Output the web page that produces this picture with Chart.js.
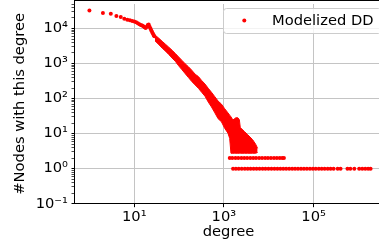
<!DOCTYPE html>
<html>
<head>
<meta charset="utf-8">
<script src="https://cdn.jsdelivr.net/npm/chart.js@4.4.0/dist/chart.umd.min.js"></script>
<style>
  html, body { margin: 0; padding: 0; background: #fff; overflow: hidden; }
  #wrap { width: 379px; height: 250px; overflow: hidden; }
</style>
</head>
<body>
<div id="wrap"><canvas id="ddChart" width="386" height="250"></canvas></div>
<script>
// head of the distribution, one point per small degree
const headDegrees = [1, 2, 3, 4, 5, 6, 7, 8, 9, 10, 11, 12, 13, 14, 15, 16, 17, 18, 19, 20, 21, 22, 23, 24, 25, 26, 27, 28];
const headCounts = [32400, 27900, 26200, 22600, 21200, 19000, 17800, 17200, 16400, 15800, 15100, 14200, 13300, 12600,
  12100, 11500, 10900, 10300, 11300, 12500, 12900, 11300, 9950, 8750, 7950, 7220, 6550, 5960];

// dense part of the curve, read as the top and bottom edge of the red band
const bandDegrees = [29, 35.5, 42, 49.8, 58.9, 69.6, 82.7, 97.8, 116, 137, 162, 192, 228, 270, 319, 378, 448, 529,
  628, 743, 879, 1040, 1230, 1345, 1436, 1590, 1715, 1850, 2050, 2210, 2320, 2870, 3400, 4380, 5100, 5650];
const bandUpper = [6550, 5230, 4310, 3550, 2930, 2410, 1930, 1540, 1230, 980, 807, 644, 498, 424, 328, 261, 196, 151,
  113, 84.7, 69.8, 51.6, 39.1, 33.7, 30.2, 24.4, 26.6, 28.3, 28.3, 24.9, 14.9, 11.5, 9.3, 6.7, 5.0, 3.8];
const bandLower = [4450, 3440, 2750, 2260, 1810, 1440, 1150, 861, 665, 514, 397, 307, 245, 196, 151, 117, 79.4, 57.5,
  39.1, 26.6, 21.9, 14.2, 10.3, 7.3, 2.75, 2.75, 2.75, 2.75, 2.75, 2.75, 2.75, 2.75, 2.75, 2.75, 2.75, 2.9];

// tail rows: degrees held by exactly two nodes / one node
const rowTwoDegrees = [1350, 1540, 1810, 2090, 2450, 2840, 3300, 3870, 4500, 5200, 6100, 7100, 8300, 9600, 11200,
  13100, 15200, 17600, 20000, 21800];
const rowOneDegrees = [1600, 1850, 2140, 2500, 2930, 3400, 3950, 4600, 5350, 6250, 7300, 8450, 9850, 11500, 13400,
  15600, 18100, 21100, 24500, 28600, 33300, 38700, 45000, 52500, 61000, 71000, 83000, 96500, 112000, 131000, 152000,
  177000, 207000, 240000, 280000, 345000, 400000, 570000, 660000, 810000, 1040000, 1220000, 1420000, 1650000, 1870000];

// axes
const yTickValues = [0.1, 1, 10, 100, 1000, 10000];
const yTickLabels = ['10\u207B\u00B9', '10\u2070', '10\u00B9', '10\u00B2', '10\u00B3', '10\u2074'];
const xTickValues = [10, 1000, 100000];
const xTickLabels = ['10\u00B9', '10\u00B3', '10\u2075'];
const yMin = 0.1, yMax = 50000;
const xMin = 0.477, xMax = 3.36e6;

const RED = '#ff0000';
const GRID = '#c4c4c4';

function labelFor(values, labels, value) {
  const i = values.findIndex(v => Math.abs(v - value) / v < 1e-6);
  return i >= 0 ? labels[i] : '';
}

function isMajorY(value) {
  return yTickValues.some(v => Math.abs(v - value) / v < 1e-6);
}

// frame + legend drawn inside the axes like matplotlib
const frameAndLegend = {
  id: 'frameAndLegend',
  afterDraw(chart) {
    const { ctx, chartArea } = chart;
    ctx.save();
    ctx.strokeStyle = '#000';
    ctx.lineWidth = 1;
    const l = Math.floor(chartArea.left) - 0.5;
    const b = Math.round(chartArea.bottom) - 0.5;
    ctx.strokeRect(l, 0.5, chartArea.right - l - 1, b - 0.5);

    // legend box
    ctx.beginPath();
    if (ctx.roundRect) ctx.roundRect(223.5, 8.5, 158, 25, 3);
    else ctx.rect(223.5, 8.5, 158, 25);
    ctx.fillStyle = 'rgba(255,255,255,0.8)';
    ctx.fill();
    ctx.strokeStyle = '#cccccc';
    ctx.stroke();

    ctx.beginPath();
    ctx.arc(244.3, 20.5, 2, 0, Math.PI * 2);
    ctx.fillStyle = RED;
    ctx.fill();

    ctx.fillStyle = '#000';
    ctx.font = '14.7px "DejaVu Sans"';
    ctx.textBaseline = 'middle';
    ctx.textAlign = 'left';
    ctx.fillText('Modelized DD', 272, 21);
    ctx.restore();
  }
};

function DegreeChart() {
  Chart.defaults.font.family = '"DejaVu Sans", sans-serif';
  Chart.defaults.font.size = 14.7;
  Chart.defaults.color = '#000';

  const pointStyle = {
    showLine: false,
    pointRadius: 2,
    pointBorderWidth: 0,
    pointBackgroundColor: RED,
    borderColor: RED,
    backgroundColor: RED,
  };

  const ctx = document.getElementById('ddChart').getContext('2d');
  new Chart(ctx, {
    type: 'scatter',
    data: {
      datasets: [
        Object.assign({
          label: 'Modelized DD',
          data: headDegrees.map((d, i) => ({ x: d, y: headCounts[i] })),
        }, pointStyle),
        Object.assign({
          label: 'rows',
          data: rowTwoDegrees.map(d => ({ x: d, y: 2 }))
            .concat(rowOneDegrees.map(d => ({ x: d, y: 1 }))),
        }, pointStyle),
        {
          label: 'band top',
          data: bandDegrees.map((d, i) => ({ x: d, y: bandUpper[i] })),
          showLine: true,
          pointRadius: 0,
          borderColor: RED,
          borderWidth: 1,
          fill: false,
        },
        {
          label: 'band bottom',
          data: bandDegrees.map((d, i) => ({ x: d, y: bandLower[i] })),
          showLine: true,
          pointRadius: 0,
          borderColor: RED,
          borderWidth: 1,
          backgroundColor: RED,
          fill: '-1',
        },
      ],
    },
    options: {
      responsive: false,
      animation: false,
      layout: { padding: 0 },
      plugins: {
        legend: { display: false },
        tooltip: { enabled: false },
      },
      scales: {
        x: {
          type: 'logarithmic',
          min: xMin,
          max: xMax,
          border: { display: false },
          grid: { color: GRID, lineWidth: 1, tickColor: '#000', tickLength: 3.5, tickWidth: 1 },
          ticks: {
            autoSkip: false,
            maxRotation: 0,
            padding: 1.5,
            callback: value => labelFor(xTickValues, xTickLabels, value),
          },
          title: { display: true, text: 'degree', padding: { top: 0, bottom: 9 } },
          afterBuildTicks: scale => { scale.ticks = xTickValues.map(v => ({ value: v })); },
          afterFit: scale => {
            scale.height = 46.3;
            scale.paddingLeft = 0;
            scale.paddingRight = 0;
          },
        },
        y: {
          type: 'logarithmic',
          min: yMin,
          max: yMax,
          border: { display: false },
          grid: {
            color: c => (c.tick && isMajorY(c.tick.value) ? GRID : 'rgba(0,0,0,0)'),
            lineWidth: 1,
            tickColor: '#000',
            tickLength: 3.5,
            tickWidth: c => (c.tick && isMajorY(c.tick.value) ? 1 : 0.7),
          },
          ticks: {
            autoSkip: false,
            padding: 3.5,
            callback: value => labelFor(yTickValues, yTickLabels, value),
          },
          title: { display: true, text: '#Nodes with this degree', padding: { top: 11, bottom: 0 } },
          afterBuildTicks: scale => {
            const ticks = [];
            yTickValues.forEach(v => {
              for (let m = 1; m < 10; m++) {
                if (v * m <= yMax) ticks.push({ value: v * m });
              }
            });
            scale.ticks = ticks;
          },
          afterFit: scale => {
            scale.width = 75;
            scale.paddingTop = 0;
            scale.paddingBottom = 0;
          },
        },
      },
    },
    plugins: [frameAndLegend],
  });
}

DegreeChart();
</script>
</body>
</html>
